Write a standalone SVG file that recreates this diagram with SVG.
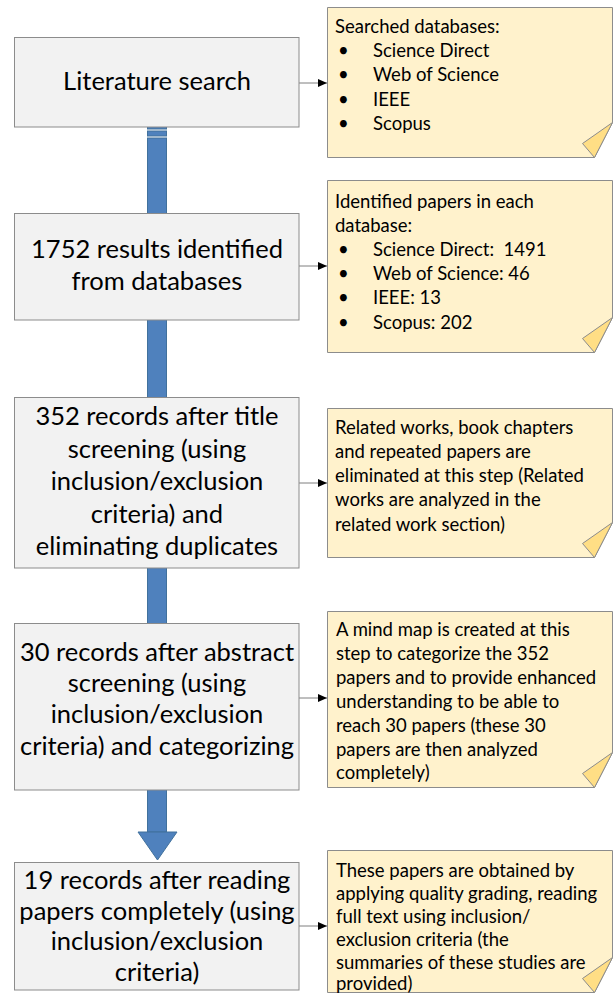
<svg xmlns="http://www.w3.org/2000/svg" width="616" height="1002" viewBox="0 0 616 1002">
<style>
.box{fill:#F2F2F2;stroke:#8C8C8C;stroke-width:1}
.note{fill:#FFF2CC;stroke:#8C8C8C;stroke-width:1}
.fold{fill:#FFDE85;stroke:#8C8C8C;stroke-width:1;stroke-linejoin:round}
.bt{font-family:Lato,"Liberation Sans",sans-serif;font-size:25.5px;fill:#000;text-anchor:middle}
.nt{font-family:Lato,"Liberation Sans",sans-serif;font-size:18.5px;fill:#000}
.conn{stroke:#7F7F7F;stroke-width:1;fill:none;marker-end:url(#ah)}
.blk{fill:#4F81BD;stroke:#41719C;stroke-width:1}
</style>
<defs>
<marker id="ah" markerUnits="userSpaceOnUse" markerWidth="10" markerHeight="10" refX="9" refY="5" orient="auto">
<path d="M0,1 L9,5 L0,9 Z" fill="#000"/>
</marker>
</defs>
<g id="connectors">
<rect class="blk" x="147.5" y="126" width="19" height="3"/>
<rect class="blk" x="147.5" y="131" width="19" height="5"/>
<rect class="blk" x="147.5" y="138" width="19" height="694"/>
<polygon class="blk" points="138,832 177,832 157.5,860"/>
<line class="conn" x1="299" y1="83" x2="327" y2="83"/>
<line class="conn" x1="299" y1="266" x2="327" y2="266"/>
<line class="conn" x1="299" y1="483" x2="327" y2="483"/>
<line class="conn" x1="299" y1="698" x2="327" y2="698"/>
<line class="conn" x1="299" y1="926" x2="327" y2="926"/>
</g>
<g id="box1">
<rect class="box" x="14.5" y="37.5" width="284.5" height="89.5"/>
<text class="bt" x="157" y="90">Literature search</text>
</g>
<g id="box2">
<rect class="box" x="14.5" y="213.5" width="284.5" height="106.5"/>
<text class="bt" x="157" y="258">1752 results identified</text>
<text class="bt" x="157" y="290">from databases</text>
</g>
<g id="box3">
<rect class="box" x="14.5" y="397.5" width="284.5" height="170.5"/>
<text class="bt" x="157" y="425">352 records after title</text>
<text class="bt" x="157" y="457.5">screening (using</text>
<text class="bt" x="157" y="490">inclusion/exclusion</text>
<text class="bt" x="157" y="522.5">criteria) and</text>
<text class="bt" x="157" y="555">eliminating duplicates</text>
</g>
<g id="box4">
<rect class="box" x="14.5" y="623.5" width="284.5" height="166.5"/>
<text class="bt" x="157" y="661">30 records after abstract</text>
<text class="bt" x="157" y="692">screening (using</text>
<text class="bt" x="157" y="723">inclusion/exclusion</text>
<text class="bt" x="157" y="755">criteria) and categorizing</text>
</g>
<g id="box5">
<rect class="box" x="14.5" y="862.5" width="284.5" height="127.5"/>
<text class="bt" x="157" y="889">19 records after reading</text>
<text class="bt" x="157" y="920">papers completely (using</text>
<text class="bt" x="157" y="950">inclusion/exclusion</text>
<text class="bt" x="157" y="981">criteria)</text>
</g>
<g id="note1">
<path class="note" d="M327.5,7.5 H612.5 V122.5 L594.5,157.5 H327.5 Z"/>
<polygon class="fold" points="612.5,122.5 594.5,157.5 582.5,143.5"/>
<text class="nt" x="335" y="33">Searched databases:</text>
<text class="nt" x="338" y="57">•</text><text class="nt" x="373" y="57">Science Direct</text>
<text class="nt" x="338" y="81">•</text><text class="nt" x="373" y="81">Web of Science</text>
<text class="nt" x="338" y="106">•</text><text class="nt" x="373" y="106">IEEE</text>
<text class="nt" x="338" y="130">•</text><text class="nt" x="373" y="130">Scopus</text>
</g>
<g id="note2">
<path class="note" d="M327.5,180.5 H612.5 V317.5 L594.5,352.5 H327.5 Z"/>
<polygon class="fold" points="612.5,317.5 594.5,352.5 582.5,338.5"/>
<text class="nt" x="335" y="208">Identified papers in each</text>
<text class="nt" x="335" y="232">database:</text>
<text class="nt" x="338" y="256">•</text><text class="nt" x="373" y="256" xml:space="preserve">Science Direct:  1491</text>
<text class="nt" x="338" y="280">•</text><text class="nt" x="373" y="280">Web of Science: 46</text>
<text class="nt" x="338" y="304">•</text><text class="nt" x="373" y="304">IEEE: 13</text>
<text class="nt" x="338" y="329">•</text><text class="nt" x="373" y="329">Scopus: 202</text>
</g>
<g id="note3">
<path class="note" d="M327.5,408.5 H612.5 V522.5 L594.5,557.5 H327.5 Z"/>
<polygon class="fold" points="612.5,522.5 594.5,557.5 582.5,543.5"/>
<text class="nt" x="335" y="434">Related works, book chapters</text>
<text class="nt" x="335" y="458">and repeated papers are</text>
<text class="nt" x="335" y="482">eliminated at this step (Related</text>
<text class="nt" x="335" y="506">works are analyzed in the</text>
<text class="nt" x="335" y="531">related work section)</text>
</g>
<g id="note4">
<path class="note" d="M327.5,611.5 H612.5 V752.5 L594.5,787.5 H327.5 Z"/>
<polygon class="fold" points="612.5,752.5 594.5,787.5 582.5,773.5"/>
<text class="nt" x="336" y="636">A mind map is created at this</text>
<text class="nt" x="336" y="660">step to categorize the 352</text>
<text class="nt" x="336" y="684">papers and to provide enhanced</text>
<text class="nt" x="336" y="708">understanding to be able to</text>
<text class="nt" x="336" y="732">reach 30 papers (these 30</text>
<text class="nt" x="336" y="756">papers are then analyzed</text>
<text class="nt" x="336" y="779">completely)</text>
</g>
<g id="note5">
<path class="note" d="M327.5,850.5 H612.5 V957.5 L594.5,992.5 H327.5 Z"/>
<polygon class="fold" points="612.5,957.5 594.5,992.5 582.5,978.5"/>
<text class="nt" x="336" y="877">These papers are obtained by</text>
<text class="nt" x="336" y="900">applying quality grading, reading</text>
<text class="nt" x="336" y="923">full text using inclusion/</text>
<text class="nt" x="336" y="946">exclusion criteria (the</text>
<text class="nt" x="336" y="969">summaries of these studies are</text>
<text class="nt" x="336" y="990">provided)</text>
</g>
</svg>
